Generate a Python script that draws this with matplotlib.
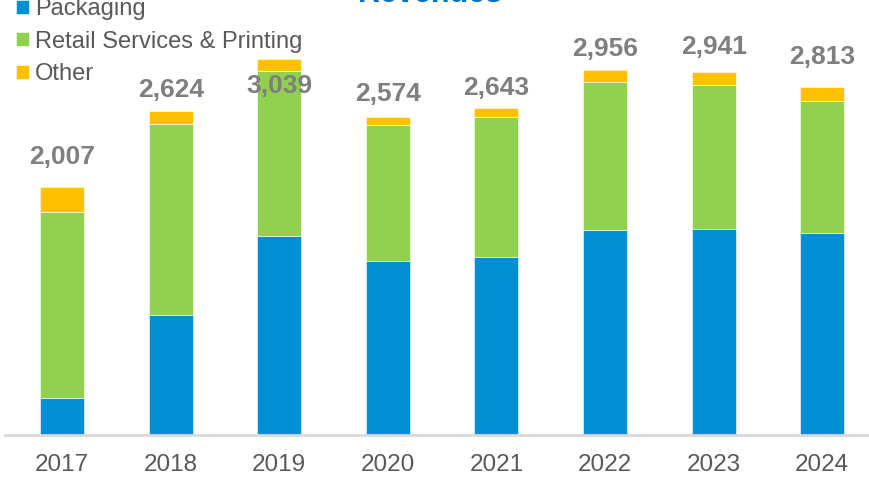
import numpy as np
import matplotlib.pyplot as plt

years = ['2017', '2018', '2019', '2020', '2021', '2022', '2023', '2024']
packaging = [299, 971, 1610, 1408, 1440, 1658, 1667, 1634]
retail = [1505, 1545, 1335, 1100, 1133, 1197, 1165, 1068]
other = [203, 108, 94, 66, 70, 101, 109, 111]
totals = ['2,007', '2,624', '3,039', '2,574', '2,643', '2,956', '2,941', '2,813']
# label offset above the bar top, in pixels (the 2019 label sits inside its bar)
label_offsets = [30, 21, -27, 23, 20, 21, 25, 30]

plt.rcParams['font.family'] = ['Liberation Sans', 'DejaVu Sans']

c_pack = '#008FD5'
c_retail = '#92D050'
c_other = '#FFC000'
grey = '#7F7F7F'

fig = plt.figure(figsize=(8.69, 4.78), dpi=100)
ax = fig.add_axes([5 / 869, 0.09, 864 / 869, 0.91])

x = np.arange(len(years))
pack = np.array(packaging)
ret = np.array(retail)
oth = np.array(other)
w = 0.405

ax.bar(x, pack, w, color=c_pack, label='Packaging', edgecolor='white', linewidth=0.4)
ax.bar(x, ret, w, bottom=pack, color=c_retail, label='Retail Services & Printing',
       edgecolor='white', linewidth=0.4)
ax.bar(x, oth, w, bottom=pack + ret, color=c_other, label='Other',
       edgecolor='white', linewidth=0.4)

top = pack + ret + oth
for i in range(len(years)):
    ax.annotate(totals[i], (x[i], top[i]), xytext=(0, label_offsets[i]),
                textcoords='offset pixels', ha='center', va='center',
                fontsize=19, fontweight='bold', color=grey)

ax.set_xlim(-0.525, 7.43)
ax.set_ylim(0, 3520)
ax.set_xticks(x)
ax.set_xticklabels(years, fontsize=17.5, color='#595959')
ax.tick_params(axis='x', length=0, pad=14)
ax.set_yticks([])
for s in ['top', 'left', 'right']:
    ax.spines[s].set_visible(False)
ax.spines['bottom'].set_color('#D9D9D9')
ax.spines['bottom'].set_linewidth(2)

fig.legend(loc='upper left', bbox_to_anchor=(0.008, 1.024), frameon=False,
           fontsize=17, labelcolor='#595959', handlelength=0.55, handleheight=0.55,
           handletextpad=0.25, labelspacing=0.45, borderaxespad=0)

fig.text(0.495, 0.995, 'Revenues', ha='center', va='baseline', fontsize=22,
         fontweight='bold', color='#0070C0')

fig.savefig('out.png', dpi=100)
